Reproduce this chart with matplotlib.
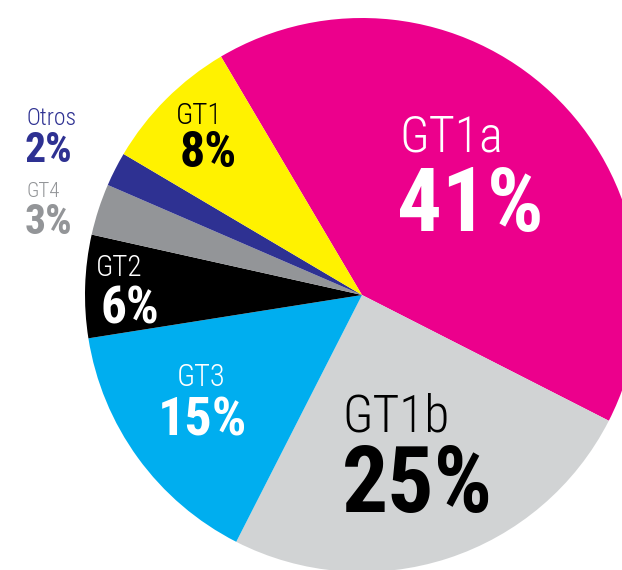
import matplotlib.pyplot as plt
from matplotlib import font_manager

# reparto por genotipo
grupos = ["GT1a", "GT1b", "GT3", "GT2", "GT4", "Otros", "GT1"]
porcentajes = [41, 25, 15, 6, 3, 2, 8]
colores = ["#EC008C", "#D1D3D4", "#00AEEF", "#000000", "#939598", "#2E3192", "#FFF200"]

W, H = 622, 570
fig = plt.figure(figsize=(W / 100, H / 100), dpi=100)
ax = fig.add_axes([0, 0, 1, 1])

ax.pie(porcentajes, colors=colores, startangle=120.6, counterclock=False,
       center=(362, H - 295), radius=277, frame=True,
       wedgeprops=dict(linewidth=0))
ax.set_xlim(0, W)
ax.set_ylim(0, H)
ax.set_aspect("equal")
ax.axis("off")

nombres = {f.name for f in font_manager.fontManager.ttflist}
fam = next((n for n in ["Roboto Condensed", "Archivo Narrow", "Barlow Condensed"]
            if n in nombres), "DejaVu Sans")

# x, línea base (px desde arriba), tamaño nombre, línea base %, x %, tamaño %, color, alineación
etiquetas = {
    "GT1a": (451, 152, 36, 231, 470, 64, "white", "center"),
    "GT1b": (396, 432, 37, 512, 417, 66, "black", "center"),
    "GT3": (201, 386, 22, 435, 202, 39, "white", "center"),
    "GT2": (119, 276, 21, 324, 130, 37, "white", "center"),
    "GT4": (26, 197, 15, 234, 25, 30, "#939598", "left"),
    "Otros": (26, 125, 17, 162, 25, 30, "#2E3192", "left"),
    "GT1": (199, 124, 21, 167, 208, 36, "black", "center"),
}

for g, p in zip(grupos, porcentajes):
    x, y1, s1, y2, x2, s2, c, ha = etiquetas[g]
    ax.text(x, H - y1, g, fontsize=s1, color=c, ha=ha, va="baseline",
            family=fam, fontweight="light")
    ax.text(x2, H - y2, f"{p}%", fontsize=s2, color=c, ha=ha,
            va="baseline", family=fam, fontweight="bold")

fig.savefig("out.png", dpi=100)
